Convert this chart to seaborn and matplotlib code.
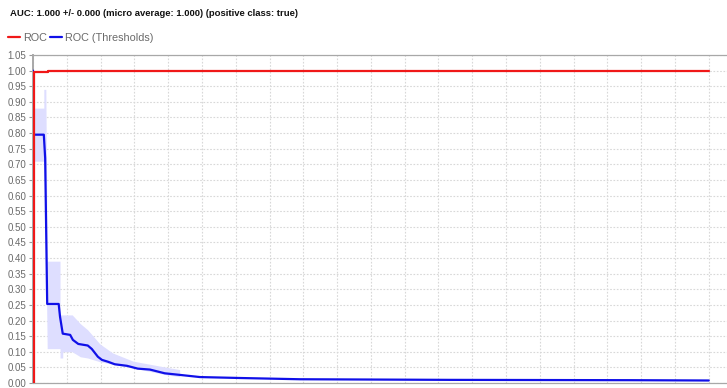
import numpy as np
import pandas as pd
import matplotlib
matplotlib.use("Agg")
import matplotlib.pyplot as plt
import seaborn as sns

# ROC curve vertices (false positive rate, true positive rate)
roc_x = [0.0, 0.001, 0.001, 0.022, 0.022, 1.0]
roc_y = [0.0, 0.0, 0.997, 0.997, 1.0, 1.0]

# Threshold curve vertices (mean over folds)
thr_x = [0.0, 0.0, 0.016, 0.018, 0.021, 0.038, 0.040, 0.044, 0.055, 0.059,
         0.067, 0.081, 0.087, 0.096, 0.102, 0.111, 0.121, 0.139, 0.155,
         0.173, 0.195, 0.217, 0.247, 0.306, 0.395, 0.617, 0.886, 1.0]
thr_y = [1.0, 0.795, 0.795, 0.72, 0.253, 0.253, 0.212, 0.158, 0.154, 0.138,
         0.125, 0.120, 0.109, 0.084, 0.074, 0.068, 0.060, 0.055, 0.046,
         0.043, 0.031, 0.026, 0.019, 0.016, 0.012, 0.010, 0.009, 0.008]

# Spread of the threshold curve across folds
band_x = [0.001, 0.016, 0.016, 0.019, 0.021, 0.040, 0.040, 0.044, 0.044,
          0.058, 0.070, 0.081, 0.099, 0.118, 0.148, 0.198, 0.217]
band_lo = [0.71, 0.71, 0.72, 0.45, 0.11, 0.11, 0.08, 0.08, 0.10,
           0.10, 0.084, 0.080, 0.068, 0.060, 0.048, 0.026, 0.020]
band_hi = [0.88, 0.88, 0.94, 0.94, 0.39, 0.39, 0.218, 0.218, 0.218,
           0.218, 0.19, 0.17, 0.125, 0.096, 0.070, 0.050, 0.043]

title = "AUC: 1.000 +/- 0.000 (micro average: 1.000) (positive class: true)"
y_ticks = np.round(np.arange(0, 1.0501, 0.05), 2)
x_grid = np.round(np.arange(0, 1.0001, 0.05), 2)

sns.set_theme(style="white")
plt.rcParams["font.family"] = ["Liberation Sans", "DejaVu Sans"]

fig = plt.figure(figsize=(7.27, 3.88), dpi=100)
ax = fig.add_axes([0.0454, 0.0129, 0.9546, 0.8453])

roc_df = pd.DataFrame({"x": roc_x, "y": roc_y, "series": "ROC"})
thr_df = pd.DataFrame({"x": thr_x, "y": thr_y, "series": "ROC (Thresholds)"})

ax.fill_between(band_x, band_lo, band_hi, color="#dedeff", linewidth=0, zorder=1)
sns.lineplot(data=thr_df, x="x", y="y", sort=False, estimator=None,
             color="#1010e8", linewidth=1.6, ax=ax, zorder=3, legend=False)
sns.lineplot(data=roc_df, x="x", y="y", sort=False, estimator=None,
             color="#f01818", linewidth=1.6, ax=ax, zorder=4, legend=False)

ax.set_xlabel("")
ax.set_ylabel("")
ax.set_yticks(y_ticks)
ax.set_yticklabels([f"{v:.2f}" for v in y_ticks])
ax.set_xticks(x_grid)
ax.set_xticklabels([])
ax.set_xlim(0, 1.027)
ax.set_ylim(0, 1.05)
ax.tick_params(axis="y", length=3, width=0.8, color="#999999", pad=2,
               labelsize=7, labelcolor="#6a6a6a", left=True)
ax.tick_params(axis="x", length=0)
ax.grid(True, color="#d8d8d8", linestyle=(0, (1.5, 1.5)), linewidth=0.8, zorder=0)

for side in ["left", "top", "bottom"]:
    ax.spines[side].set_visible(True)
    ax.spines[side].set_color("#a8a8a8")
ax.spines["left"].set_linewidth(1.4)
ax.spines["top"].set_linewidth(0.9)
ax.spines["bottom"].set_linewidth(0.9)
ax.spines["right"].set_visible(False)

fig.text(0.0138, 0.964, title, fontsize=6.8, fontweight="bold", color="#111111",
         ha="left", va="center")

# Legend drawn above the plot area
handles = [plt.Line2D([], [], color="#f01818", linewidth=1.6),
           plt.Line2D([], [], color="#1010e8", linewidth=1.6)]
fig.legend(handles, ["ROC", "ROC (Thresholds)"], loc="center left",
           bbox_to_anchor=(0.011, 0.903), ncol=2, frameon=False, fontsize=7.8,
           labelcolor="#6a6a6a", handlelength=1.1, handletextpad=0.3,
           columnspacing=0.3, borderaxespad=0, borderpad=0.0)

fig.savefig("out.png", dpi=100)
